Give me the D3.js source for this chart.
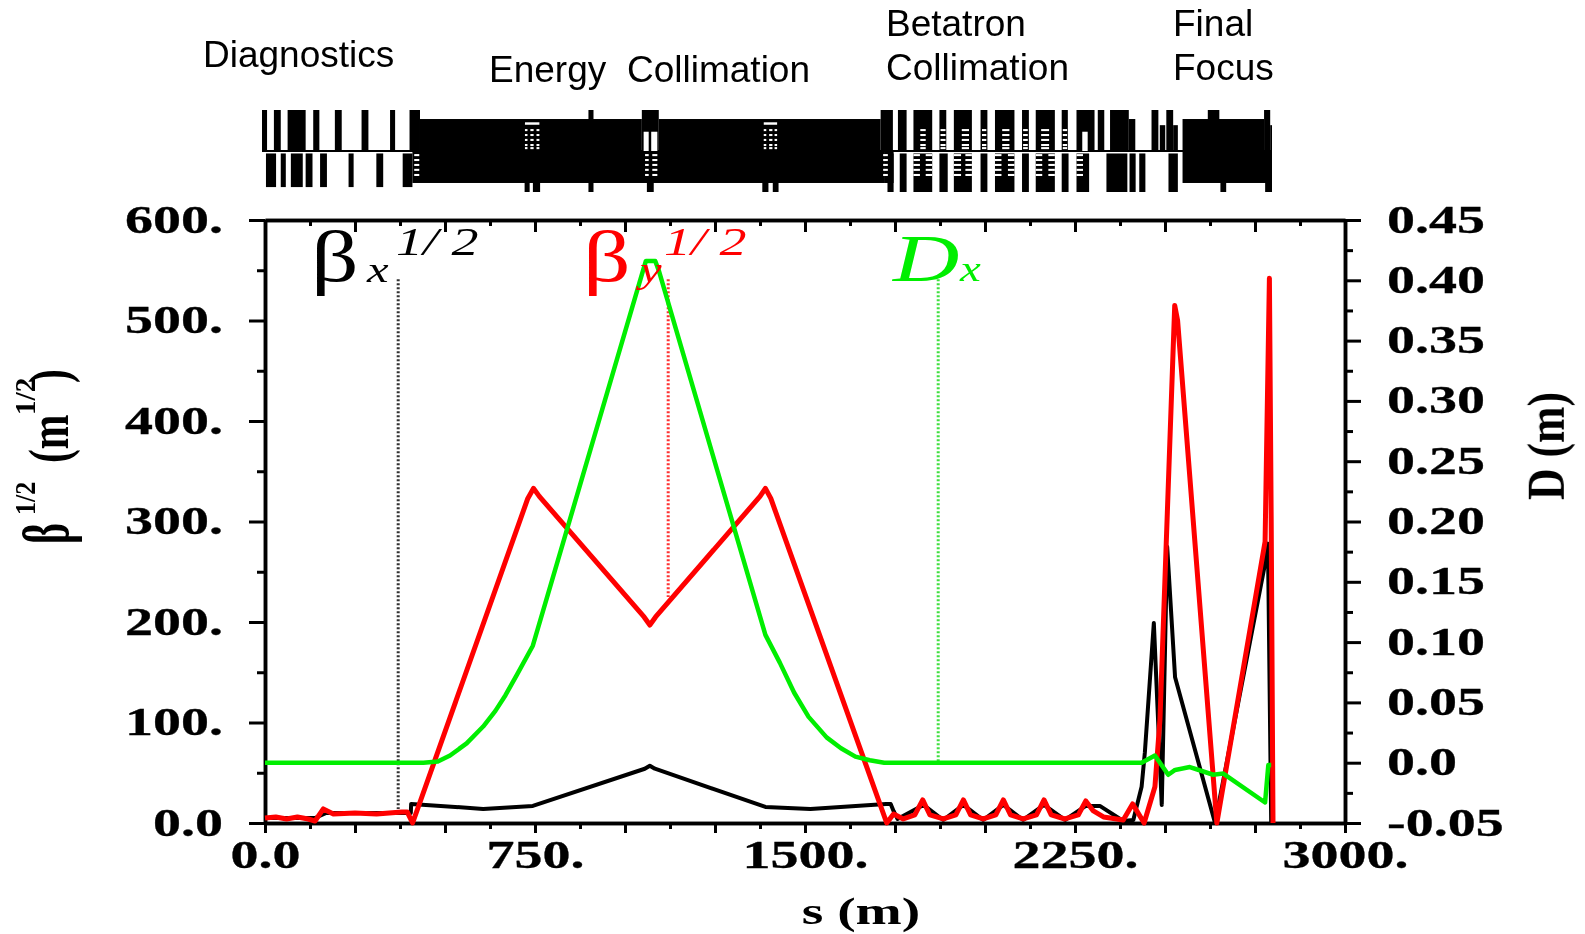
<!DOCTYPE html>
<html>
<head>
<meta charset="utf-8">
<script src="https://cdn.jsdelivr.net/npm/d3@7"></script>
<style>
  html, body { margin: 0; background: #fff; }
  svg { display: block; }
</style>
</head>
<body>
<div id="chart"></div>
<script>
// optics functions: s in m, beta^1/2 in m^1/2, D in m
const betaXS = [0, 139, 170, 405, 406, 606, 744, 1055, 1069, 1083, 1390, 1515, 1725, 1738, 1746, 1757, 1829, 1884, 1940, 1995, 2051, 2106, 2164, 2222, 2280, 2319, 2384, 2412, 2435, 2444, 2469, 2491, 2506, 2528, 2639, 2778, 2786, 2795, 2800];
const betaX = [5, 5, 10, 10, 19, 14, 17, 54, 57, 54, 16, 14, 19, 19, 12, 4, 18, 3, 18, 3, 18, 3, 18, 3, 17, 17, 2, 3, 36, 70, 199, 18, 275, 145, 0, 258, 278, 0, 0];

const betaYS = [0, 30, 60, 90, 120, 139, 162, 190, 250, 310, 380, 395, 410, 730, 746, 762, 1053, 1069, 1085, 1375, 1390, 1405, 1727, 1746, 1773, 1805, 1827, 1847, 1884, 1919, 1940, 1960, 1995, 2030, 2051, 2071, 2106, 2143, 2164, 2184, 2222, 2259, 2280, 2301, 2329, 2384, 2410, 2442, 2472, 2486, 2527, 2535, 2644, 2778, 2790, 2795, 2800];
const betaY = [5, 6, 4, 6, 4, 2, 14, 9, 10, 9, 11, 11, 0, 323, 333, 325, 205, 197, 205, 325, 333, 323, 0, 9, 4, 8, 23, 8, 4, 8, 23, 8, 4, 8, 23, 8, 4, 8, 23, 8, 4, 8, 22, 12, 6, 3, 19, 0, 36, 103, 515, 500, 0, 280, 542, 300, 0];

const dispS = [0, 440, 480, 514, 560, 606, 640, 668, 700, 744, 1050, 1058, 1084, 1094, 1390, 1430, 1470, 1510, 1560, 1600, 1640, 1680, 1720, 2435, 2472, 2509, 2528, 2569, 2634, 2662, 2778, 2787, 2795];
const disp = [0, 0, 0.001, 0.006, 0.016, 0.03, 0.043, 0.056, 0.073, 0.097, 0.408, 0.416, 0.416, 0.408, 0.106, 0.083, 0.058, 0.038, 0.021, 0.012, 0.005, 0.002, 0, 0, 0.006, -0.01, -0.006, -0.0036, -0.01, -0.009, -0.033, -0.002, -0.002];

// dotted drop lines under the curve labels: s, top and bottom as beta^1/2
const dropS = [370, 1120, 1870];
const dropTop = [541, 541, 541];
const dropBottom = [14, 225, 60];
const dropColors = ["#333", "#ff3030", "#40e040"];

// lattice elements, [s start, s end]
const upperTall = [[0,14],[33,52],[71,121],[142,159],[202,221],[276,295],[355,369],[409,438],[905,919],[1053,1100],[1715,1749],[1763,1787],[1806,1858],[1878,1897],[1918,1968],[1992,2011],[2032,2086],[2107,2126],[2145,2198],[2217,2234],[2258,2308],[2317,2335],[2351,2403],[2466,2485],[2507,2526],[2622,2654],[2778,2795]];
const upperDense = [[438,1053],[1100,1715],[2403,2421],[2552,2778]];
const upperMid = [[2489,2504],[2526,2539],[2795,2800]];
const lowerBars = [[11,39],[52,66],[80,113],[121,140],[161,180],[240,254],[317,336],[390,417]];
const lowerDense = [[417,1727],[1727,1751],[2552,2800]];
const lowerTicks = [[728,742],[751,771],[905,919],[1067,1086],[1387,1404],[1416,1432],[1734,1751],[1768,1787],[1806,1858],[1878,1901],[1918,1968],[1992,2011],[2032,2086],[2107,2126],[2145,2198],[2217,2236],[2258,2293],[2341,2399],[2405,2422],[2432,2449],[2513,2539],[2657,2673],[2781,2800]];

// white gaps cut out of the elements: [s start, s end, level top, level bottom]
const latticeGaps = [[1058,1072,0.47,0],[1079,1096,0.47,0],[2274,2289,0.47,0],[729,769,0.7,0.64],[1391,1428,0.7,0.64]];
const dashCols = [[729,736],[744,753],[761,769],[1391,1398],[1406,1415],[1421,1428],[1825,1840],[1881,1895],[1940,1960],[1996,2008],[2052,2072],[2110,2123],[2160,2182],[2220,2232]];
const dashLevels = [0.51, 0.39, 0.27, 0.146, 0.07];
const lowDashCols = [[422,436],[1062,1072],[1082,1096],[1722,1735],[1806,1824],[1840,1858],[1918,1938],[1950,1968],[2032,2050],[2068,2086],[2145,2163],[2180,2198],[2258,2276]];
const lowDashLevels = [-0.1, -0.22, -0.34, -0.46, -0.585];

const leftTicks = [0, 100, 200, 300, 400, 500, 600];
const leftLabels = ["0.0", "100.", "200.", "300.", "400.", "500.", "600."];
const rightTicks = [-0.05, 0, 0.05, 0.10, 0.15, 0.20, 0.25, 0.30, 0.35, 0.40, 0.45];
const rightLabels = ["-0.05", "0.0", "0.05", "0.10", "0.15", "0.20", "0.25", "0.30", "0.35", "0.40", "0.45"];
const bottomLabelled = [0, 750, 1500, 2250, 3000];
const bottomLabels = ["0.0", "750.", "1500.", "2250.", "3000."];

const sections = [
  ["Diagnostics", 203, 67], ["Energy", 489, 82], ["Collimation", 627, 82],
  ["Betatron", 886, 36], ["Collimation", 886, 80], ["Final", 1173, 36], ["Focus", 1173, 80]
];

let settings = {
  width: 1585,
  height: 934,
  marginTop: 220,
  marginRight: 240, // plot ends at 1345
  marginBottom: 111, // plot ends at 823
  marginLeft: 265,
  serif: "'Liberation Serif', serif",
  sans: "'Liberation Sans', sans-serif",
};

function InitChart(conf) {
  const svg = d3.select("#chart").append("svg")
    .attr("width", conf.width)
    .attr("height", conf.height)
    .attr("viewBox", [0, 0, conf.width, conf.height]);

  // the source is a blurry upscaled bitmap
  svg.append("filter").attr("id", "soft")
    .append("feGaussianBlur").attr("stdDeviation", 0.7);

  const root = svg.append("g").attr("filter", "url(#soft)");
  const xRange = [conf.marginLeft, conf.width - conf.marginRight];
  const yRange = [conf.height - conf.marginBottom, conf.marginTop];
  conf.x = d3.scaleLinear([0, 3000], xRange);
  conf.yL = d3.scaleLinear([0, 600], yRange);
  conf.yR = d3.scaleLinear([-0.05, 0.45], yRange);
  conf.lx = d3.scaleLinear([0, 2800], [262, 1272]);
  conf.ly = d3.scaleLinear([-1, 1], [192, 110]);

  drawLattice(root, conf);
  drawAxes(root, conf);
  drawCurves(root, conf);
  drawLabels(root, conf);
}

function addElements(g, conf, items, top, bottom, color) {
  g.selectAll(null).data(items).join("rect")
    .attr("x", d => conf.lx(d[0]))
    .attr("width", d => conf.lx(d[1]) - conf.lx(d[0]))
    .attr("y", conf.ly(top))
    .attr("height", conf.ly(bottom) - conf.ly(top))
    .attr("fill", color);
}

function drawLattice(root, conf) {
  const g = root.append("g").attr("class", "lattice");
  g.append("line")
    .attr("x1", conf.lx(0)).attr("x2", conf.lx(2800))
    .attr("y1", conf.ly(0)).attr("y2", conf.ly(0))
    .attr("stroke", "#000").attr("stroke-width", 2);
  addElements(g, conf, upperTall, 1, 0, "#000");
  addElements(g, conf, upperDense, 0.78, 0, "#000");
  addElements(g, conf, upperMid, 0.63, 0, "#000");
  addElements(g, conf, lowerBars, -0.06, -0.88, "#000");
  addElements(g, conf, lowerDense, 0, -0.78, "#000");
  addElements(g, conf, lowerTicks, -0.06, -1, "#000");
  for (const d of latticeGaps) addElements(g, conf, [d], d[2], d[3], "#fff");
  for (const lev of dashLevels) addElements(g, conf, dashCols, lev + 0.025, lev - 0.025, "#fff");
  for (const lev of lowDashLevels) addElements(g, conf, lowDashCols, lev + 0.025, lev - 0.025, "#fff");
}

function styleAxis(g) {
  g.selectAll("path, line").attr("stroke", "#000").attr("stroke-width", 3);
  g.select(".domain").attr("stroke-width", 3.5);
}

function styleLabels(g, conf, dx, dy, anchor) {
  g.selectAll("text")
    .attr("x", 0).attr("y", 0).attr("dy", 0)
    .attr("text-anchor", anchor)
    .attr("fill", "#000")
    .attr("stroke", "#000")
    .attr("stroke-width", 0.3)
    .attr("font-family", conf.serif)
    .attr("font-weight", "bold")
    .attr("font-size", 40)
    .attr("transform", `translate(${dx},${dy}) scale(1.4,1)`);
}

function drawAxes(root, conf) {
  const h = conf.height - conf.marginBottom;
  const w = conf.width - conf.marginRight;
  const xMajor = d3.range(0, 3001, 250);
  const xMinor = d3.range(125, 3000, 250);
  const leftMinor = d3.range(50, 600, 100);
  const rightMinor = rightTicks.slice(0, -1).map(t => t + 0.025);

  // bottom
  const bMinor = root.append("g").attr("transform", `translate(0,${h})`)
    .call(d3.axisBottom(conf.x).tickValues(xMinor).tickSize(6).tickFormat("").tickSizeOuter(0));
  styleAxis(bMinor);
  const bMajor = root.append("g").attr("transform", `translate(0,${h})`)
    .call(d3.axisBottom(conf.x).tickValues(xMajor).tickSize(10).tickSizeOuter(0)
      .tickFormat(d => { const i = bottomLabelled.indexOf(d); return i < 0 ? "" : bottomLabels[i]; }));
  styleAxis(bMajor);
  styleLabels(bMajor, conf, 0, 45, "middle");

  // top
  const tMinor = root.append("g").attr("transform", `translate(0,${conf.marginTop})`)
    .call(d3.axisTop(conf.x).tickValues(xMinor).tickSize(-6).tickFormat("").tickSizeOuter(0));
  styleAxis(tMinor);
  const tMajor = root.append("g").attr("transform", `translate(0,${conf.marginTop})`)
    .call(d3.axisTop(conf.x).tickValues(xMajor).tickSize(-12).tickFormat("").tickSizeOuter(0));
  styleAxis(tMajor);

  // left
  const lMinor = root.append("g").attr("transform", `translate(${conf.marginLeft},0)`)
    .call(d3.axisLeft(conf.yL).tickValues(leftMinor).tickSize(8).tickFormat("").tickSizeOuter(0));
  styleAxis(lMinor);
  const lMajor = root.append("g").attr("transform", `translate(${conf.marginLeft},0)`)
    .call(d3.axisLeft(conf.yL).tickValues(leftTicks).tickSize(16).tickSizeOuter(0)
      .tickFormat(d => leftLabels[leftTicks.indexOf(d)]));
  styleAxis(lMajor);
  styleLabels(lMajor, conf, -42, 12, "end");

  // right
  const rMinor = root.append("g").attr("transform", `translate(${w},0)`)
    .call(d3.axisRight(conf.yR).tickValues(rightMinor).tickSize(8).tickFormat("").tickSizeOuter(0));
  styleAxis(rMinor);
  const rMajor = root.append("g").attr("transform", `translate(${w},0)`)
    .call(d3.axisRight(conf.yR).tickValues(rightTicks).tickSize(16).tickSizeOuter(0)
      .tickFormat(d => rightLabels[rightTicks.indexOf(d)]));
  styleAxis(rMajor);
  styleLabels(rMajor, conf, 42, 12, "start");
}

function make_line(xs, ys, xScale, yScale) {
  return d3.line().curve(d3.curveLinear)
    .x(i => xScale(xs[i]))
    .y(i => yScale(ys[i]))(d3.range(xs.length));
}

function drawCurves(root, conf) {
  const g = root.append("g").attr("class", "curves");
  g.selectAll(null).data(dropS).join("line")
    .attr("x1", d => conf.x(d)).attr("x2", d => conf.x(d))
    .attr("y1", (d, i) => conf.yL(dropTop[i]))
    .attr("y2", (d, i) => conf.yL(dropBottom[i]))
    .attr("stroke", (d, i) => dropColors[i])
    .attr("stroke-width", 3)
    .attr("stroke-dasharray", "2 2");
  const addCurve = (xs, ys, yScale, color, w) => g.append("path")
    .attr("fill", "none")
    .attr("d", make_line(xs, ys, conf.x, yScale))
    .attr("stroke", color)
    .attr("stroke-width", w)
    .attr("stroke-linejoin", "round");
  addCurve(betaXS, betaX, conf.yL, "#000", 4);
  addCurve(betaYS, betaY, conf.yL, "#ff0000", 5);
  addCurve(dispS, disp, conf.yR, "#00ee00", 4.5);
}

function addText(root, str, x, y, size, attrs) {
  const t = root.append("text").attr("x", x).attr("y", y)
    .attr("font-size", size).text(str);
  for (const k in (attrs || {})) t.attr(k, attrs[k]);
  return t;
}

// text placed at (x,y) and stretched sideways; rot -90 runs it up the page
function stretched(root, str, x, y, size, sx, rot, attrs) {
  return addText(root, str, 0, 0, size, {
    ...attrs,
    transform: `translate(${x},${y}) rotate(${rot}) scale(${sx},1)`,
  });
}

function drawLabels(root, conf) {
  const serif = { "font-family": conf.serif };
  const ital = { "font-family": conf.serif, "font-style": "italic" };

  sections.forEach(d => addText(root, d[0], d[1], d[2], 37, { "font-family": conf.sans, fill: "#000" }));

  // curve labels
  const legend = [
    ["β", "x", 311, 367, 396, "#000"],
    ["β", "y", 583, 640, 664, "#ff0000"],
  ];
  legend.forEach(d => {
    stretched(root, d[0], d[2], 281, 72, 1.3, 0, { ...serif, fill: d[5] });
    stretched(root, d[1], d[3], 282, 36, 1.35, 0, { ...ital, fill: d[5] });
    stretched(root, "1/ 2", d[4], 255, 40, 1.35, 0, { ...ital, fill: d[5] });
  });
  stretched(root, "D", 893, 281, 68, 1.35, 0, { ...ital, fill: "#00ee00" });
  stretched(root, "x", 960, 281, 36, 1.3, 0, { ...ital, fill: "#00ee00" });

  // axis titles
  const bold = { "font-family": conf.serif, "font-weight": "bold", fill: "#000" };
  stretched(root, "s (m)", 861, 924, 37, 1.5, 0, { ...bold, "text-anchor": "middle" });
  addText(root, "D (m)", 0, 0, 38, { ...bold, "text-anchor": "middle",
    transform: "translate(1564,446) rotate(-90) scale(1.15,1.4)" });

  // left title is squeezed along the axis, one piece at a time
  stretched(root, "β", 68, 544, 66, 0.6, -90, bold);
  stretched(root, "1/2", 35, 515, 30, 0.87, -90, bold);
  stretched(root, "(m", 68, 463, 57, 0.73, -90, bold);
  stretched(root, "1/2", 35, 415, 30, 0.97, -90, bold);
  stretched(root, ")", 68, 383, 57, 0.73, -90, bold);
}

InitChart(settings);
</script>
</body>
</html>
